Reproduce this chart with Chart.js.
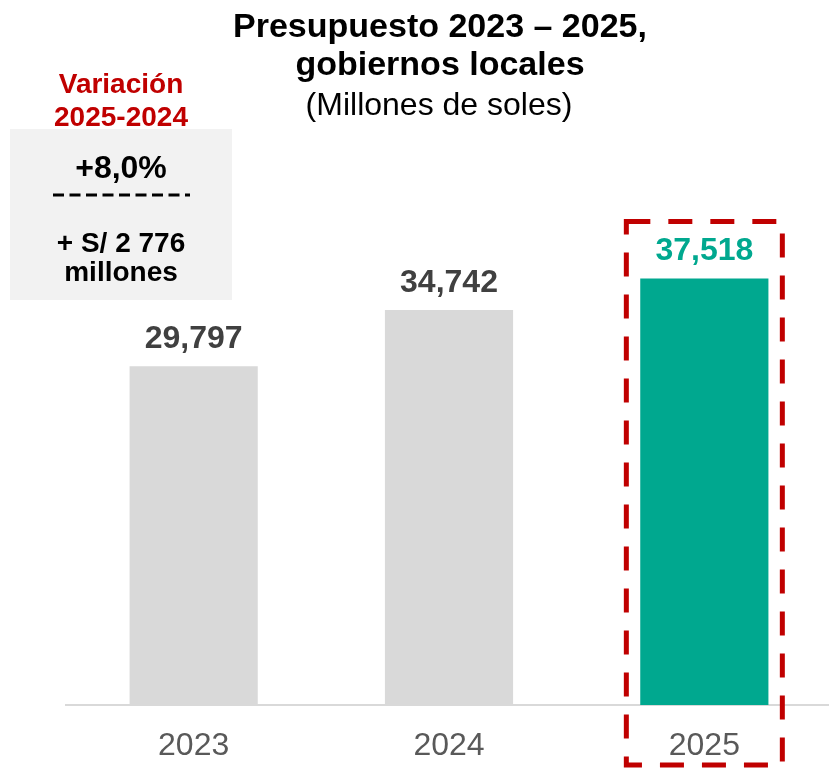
<!DOCTYPE html>
<html>
<head>
<meta charset="utf-8">
<script src="https://cdn.jsdelivr.net/npm/chart.js@4.4.0/dist/chart.umd.min.js"></script>
<style>
  html, body { margin: 0; padding: 0; background: #fff; overflow: hidden; }
</style>
</head>
<body>
<canvas id="myChart" width="832" height="769"></canvas>
<script>
// data
const years = ['2023', '2024', '2025'];
const budget = [29797, 34742, 37518];
const barColors = ['#d9d9d9', '#d9d9d9', '#00a88f'];
const labelColors = ['#404040', '#404040', '#00a88f'];

// texts
const titleLines = ['Presupuesto 2023 – 2025,', 'gobiernos locales'];
const subtitle = '(Millones de soles)';
const variationTitle = ['Variación', '2025-2024'];
const variationPct = '+8,0%';
const variationAmount = ['+ S/ 2 776', 'millones'];

const FONT = '"Liberation Sans", Arial, sans-serif';

function fmt(n) {
  return String(n).replace(/\B(?=(\d{3})+(?!\d))/g, ',');
}

const extras = {
  id: 'extras',
  afterDatasetsDraw(chart) {
    const c = chart.ctx;
    const bars = chart.getDatasetMeta(0).data;
    c.save();
    c.textAlign = 'center';
    c.textBaseline = 'alphabetic';

    // value labels over bars
    c.font = 'bold 32px ' + FONT;
    bars.forEach((b, i) => {
      c.fillStyle = labelColors[i];
      c.fillText(fmt(budget[i]), b.x, b.y - 18);
    });

    // red dashed frame round the last bar
    const last = bars[bars.length - 1];
    c.strokeStyle = '#c00000';
    c.lineWidth = 5;
    c.setLineDash([24, 18]);
    const top = last.y - 57;
    c.strokeRect(last.x - 78, top, 156, 765 - top);
    c.setLineDash([]);

    // title
    c.fillStyle = '#000';
    c.font = 'bold 34px ' + FONT;
    c.fillText(titleLines[0], 440, 37);
    c.fillText(titleLines[1], 440, 75);
    c.font = '32px ' + FONT;
    c.fillText(subtitle, 439, 115);

    // variation box
    c.fillStyle = '#f2f2f2';
    c.fillRect(10, 129, 222, 171);
    c.fillStyle = '#c00000';
    c.font = 'bold 28px ' + FONT;
    c.fillText(variationTitle[0], 121, 93);
    c.fillText(variationTitle[1], 121, 126);
    c.fillStyle = '#000';
    c.font = 'bold 32px ' + FONT;
    c.fillText(variationPct, 121, 178);
    c.strokeStyle = '#000';
    c.lineWidth = 3;
    c.setLineDash([11, 5.5]);
    c.beginPath();
    c.moveTo(53, 195);
    c.lineTo(190, 195);
    c.stroke();
    c.setLineDash([]);
    c.font = 'bold 28px ' + FONT;
    c.fillText(variationAmount[0], 121, 252);
    c.fillText(variationAmount[1], 121, 281);
    c.restore();
  }
};

let ctx = document.getElementById('myChart');
new Chart(ctx, {
  type: 'bar',
  data: {
    labels: years,
    datasets: [{
      data: budget,
      backgroundColor: barColors,
      borderWidth: 0,
      barPercentage: 0.502,
      categoryPercentage: 1
    }]
  },
  options: {
    responsive: false,
    animation: false,
    layout: { padding: { left: 66, right: 0, top: 0, bottom: 0 } },
    plugins: { legend: { display: false }, tooltip: { enabled: false } },
    scales: {
      y: { display: false, min: 0, max: 62000 },
      x: {
        grid: { display: false, drawTicks: false },
        border: { color: '#d9d9d9', width: 2 },
        ticks: { color: '#595959', padding: 22, font: { family: FONT, size: 32 } },
        afterFit(scale) { scale.height = 64; }
      }
    }
  },
  plugins: [extras]
});
</script>
</body>
</html>
